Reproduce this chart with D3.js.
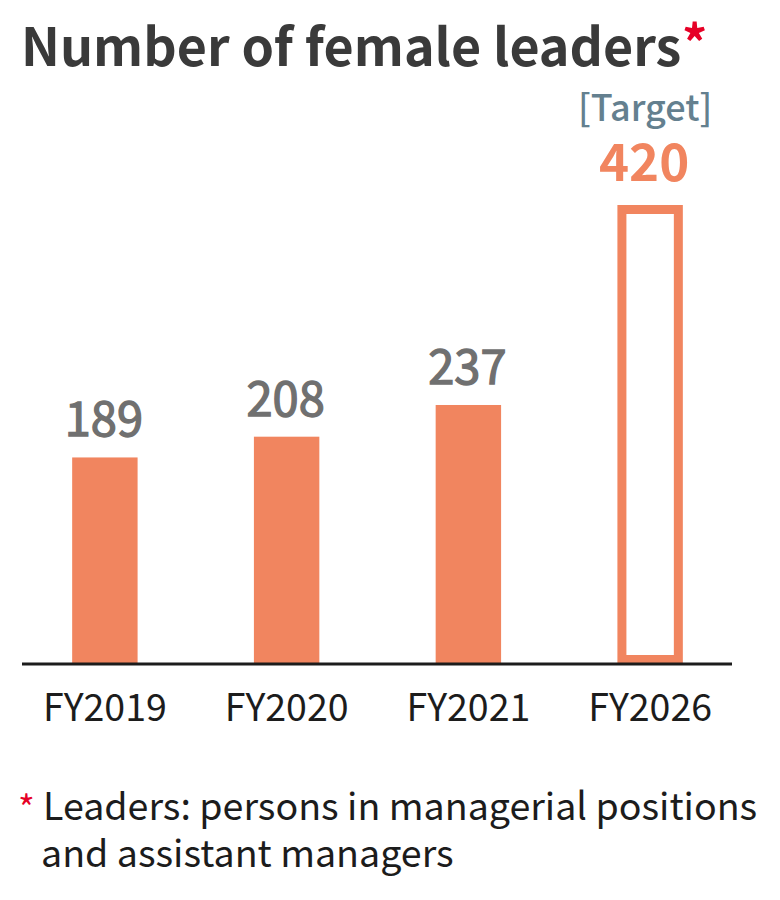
<!DOCTYPE html>
<html>
<head>
<meta charset="utf-8">
<script src="https://cdn.jsdelivr.net/npm/d3@7"></script>
<style>
  html, body { margin: 0; padding: 0; background: #fff; }
  text { font-family: "Noto Sans CJK JP", "Noto Sans", sans-serif; }
</style>
</head>
<body>
<div id="chart"></div>
<script>
const years = ['FY2019', 'FY2020', 'FY2021', 'FY2026'];
const values = [189, 208, 237, 420];
const targetYears = ['FY2026'];

const width = 780, height = 900;
const baseline = 664, top420 = 205;

const svg = d3.select('#chart').append('svg')
  .attr('width', width)
  .attr('height', height);

const x = d3.scaleBand()
  .domain(years)
  .range([14, 741])
  .paddingInner(0.64)
  .paddingOuter(0.32);

const y = d3.scaleLinear()
  .domain([0, 420])
  .range([baseline, top420]);

const orange = '#f1855f';
const grey = '#707070';
const ink = '#1c1c1c';

svg.append('text')
  .attr('x', 21).attr('y', 66)
  .attr('font-size', 52).attr('font-weight', 700)
  .attr('fill', '#3a3a3a')
  .text('Number of female leaders');

svg.append('text')
  .attr('x', 682).attr('y', 62)
  .attr('font-size', 50).attr('font-weight', 700)
  .attr('fill', '#e60026')
  .text('*');

const solid = years.filter(d => !targetYears.includes(d));

svg.selectAll('.bar')
  .data(solid)
  .enter().append('rect')
  .attr('class', 'bar')
  .attr('x', d => x(d))
  .attr('y', d => y(values[years.indexOf(d)]))
  .attr('width', x.bandwidth())
  .attr('height', d => baseline - y(values[years.indexOf(d)]))
  .attr('fill', orange);

const sw = 9;
svg.selectAll('.target')
  .data(targetYears)
  .enter().append('rect')
  .attr('class', 'target')
  .attr('x', d => x(d) + sw / 2)
  .attr('y', d => y(values[years.indexOf(d)]) + sw / 2)
  .attr('width', x.bandwidth() - sw)
  .attr('height', d => baseline - y(values[years.indexOf(d)]) - sw)
  .attr('fill', '#fff')
  .attr('stroke', orange)
  .attr('stroke-width', sw);

// the plain bars' labels are medium weight, faked with a thin stroke
svg.selectAll('.val')
  .data(years)
  .enter().append('text')
  .attr('class', 'val')
  .attr('x', d => x(d) + x.bandwidth() / 2 - (targetYears.includes(d) ? 6 : 1))
  .attr('y', (d, i) => y(values[i]) - (targetYears.includes(d) ? 24 : 21))
  .attr('text-anchor', 'middle')
  .attr('font-size', d => targetYears.includes(d) ? 51 : 47)
  .attr('font-weight', d => targetYears.includes(d) ? 700 : 400)
  .attr('fill', d => targetYears.includes(d) ? orange : grey)
  .attr('stroke', d => targetYears.includes(d) ? 'none' : grey)
  .attr('stroke-width', 1.3)
  .text((d, i) => values[i]);

svg.append('text')
  .attr('x', x('FY2026') + x.bandwidth() / 2 - 5)
  .attr('y', 121)
  .attr('text-anchor', 'middle')
  .attr('font-size', 36)
  .attr('font-weight', 500)
  .attr('fill', '#64808f')
  .text('[Target]');

const axis = svg.append('g')
  .attr('transform', `translate(0,${baseline})`)
  .call(d3.axisBottom(x).tickSize(0).tickPadding(30));
axis.select('.domain').attr('stroke', ink).attr('stroke-width', 3)
  .attr('d', 'M22,0H732');
axis.selectAll('text')
  .attr('font-size', 37.5)
  .attr('fill', ink)
  .style('font-family', '"Noto Sans CJK JP", "Noto Sans", sans-serif');

svg.append('text')
  .attr('x', 18).attr('y', 822)
  .attr('font-size', 36)
  .attr('fill', '#e60026')
  .text('*');

svg.append('text')
  .attr('x', 43).attr('y', 820)
  .attr('font-size', 37.6)
  .attr('fill', ink)
  .text('Leaders: persons in managerial positions');

svg.append('text')
  .attr('x', 41).attr('y', 867)
  .attr('font-size', 37.6)
  .attr('fill', ink)
  .text('and assistant managers');
</script>
</body>
</html>
